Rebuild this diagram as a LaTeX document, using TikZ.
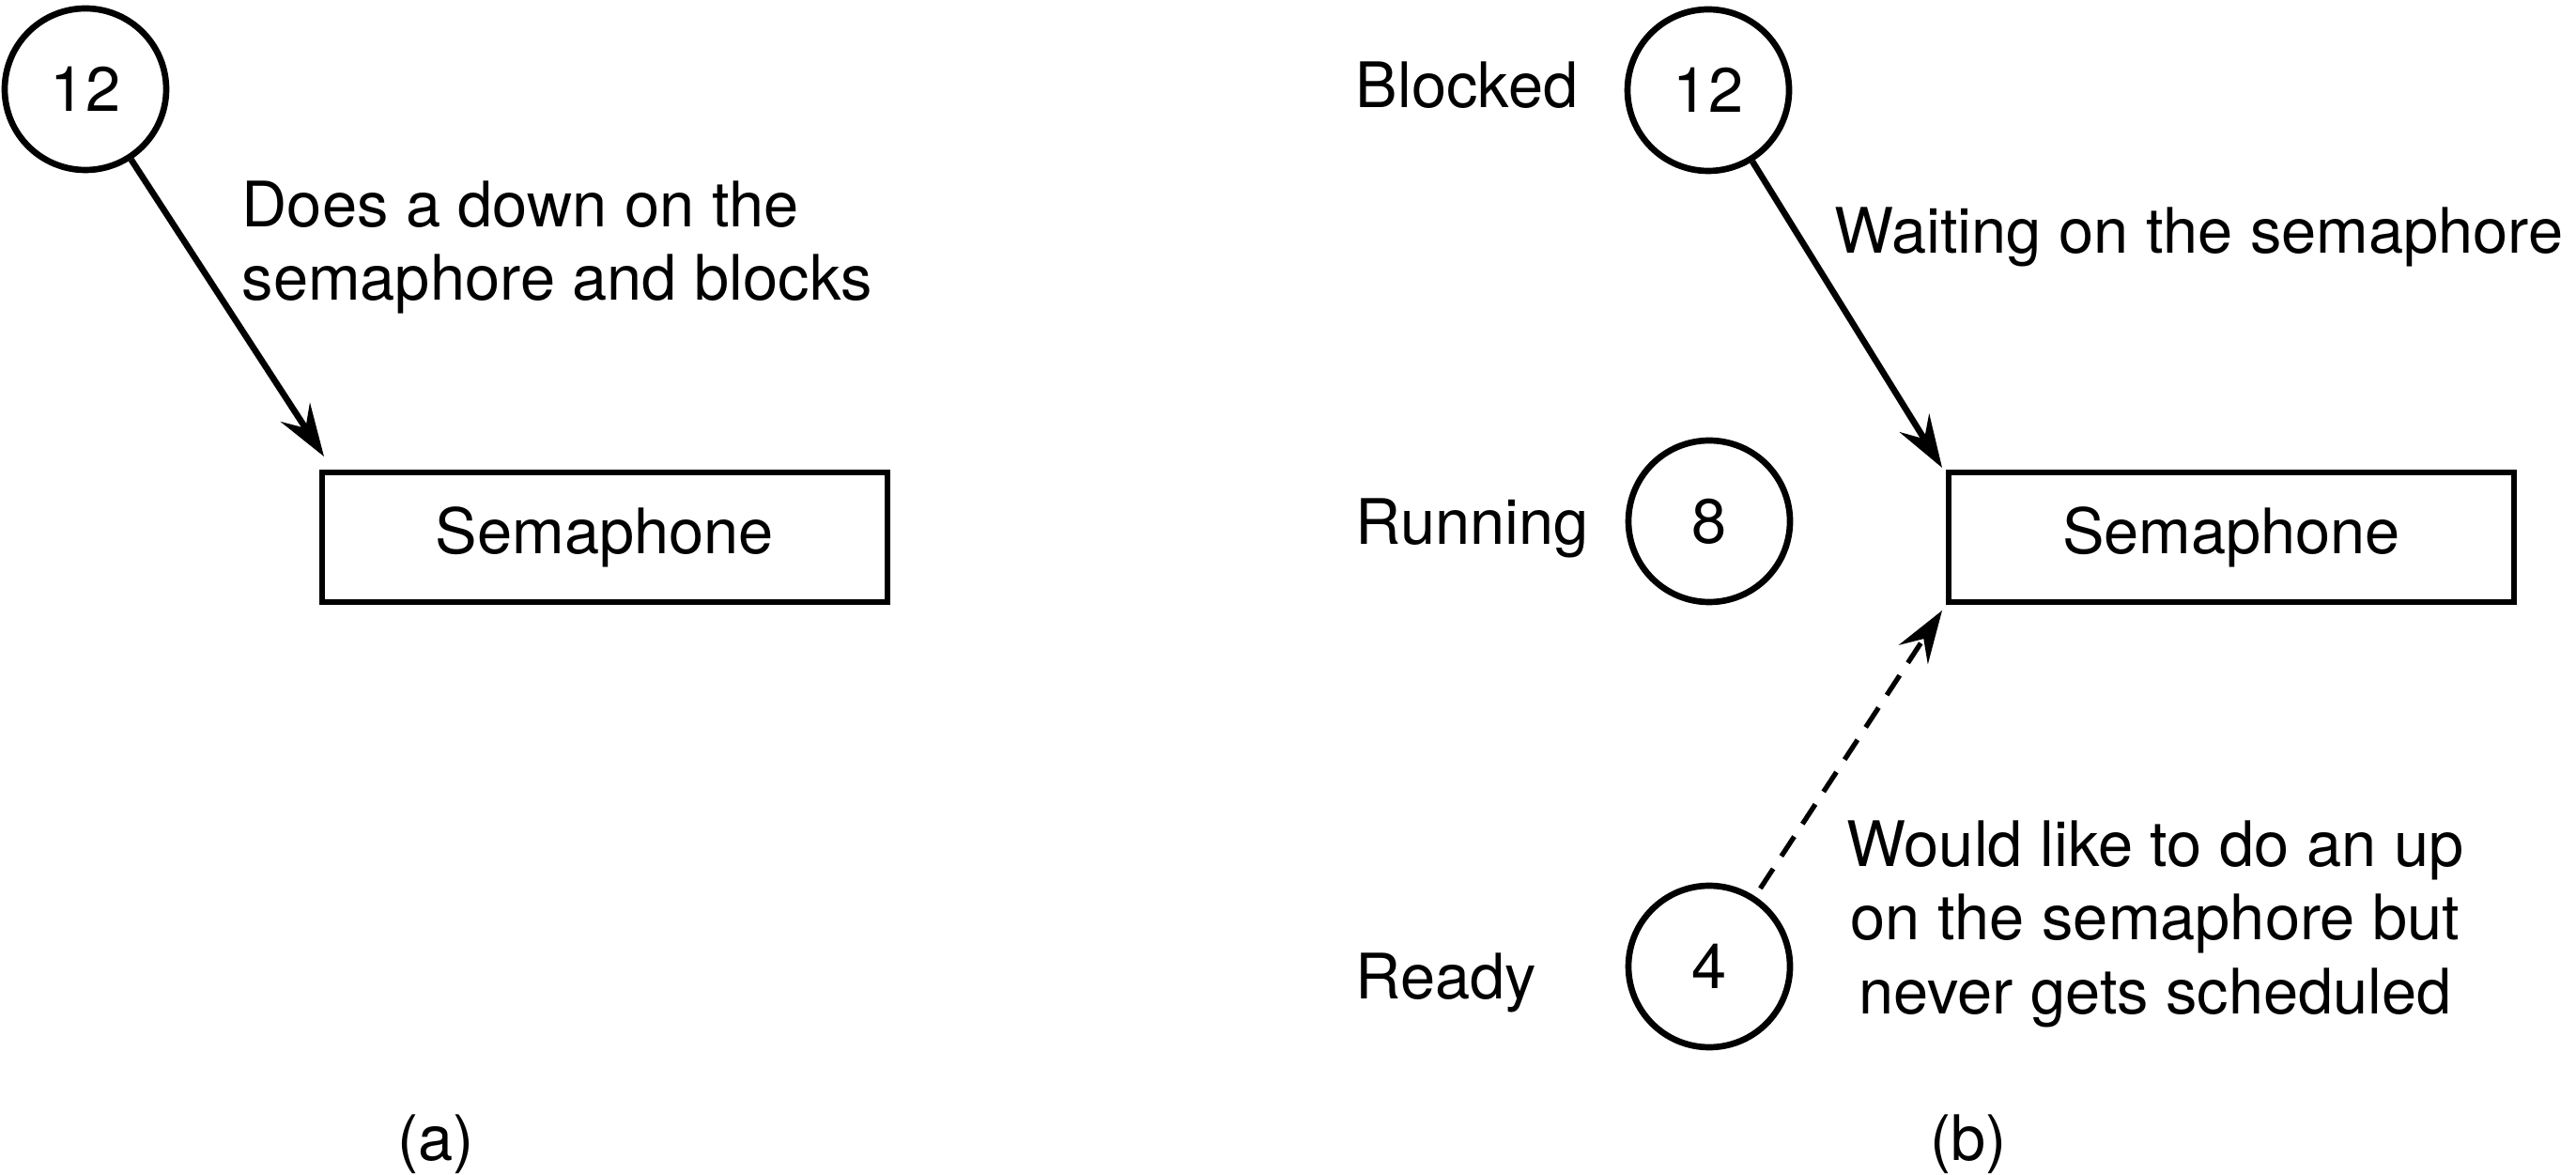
\documentclass[tikz,border=0pt]{standalone}
\usepackage{fontspec}
\setmainfont{TeX Gyre Heros}
\usetikzlibrary{arrows.meta}
\begin{document}
\begin{tikzpicture}[
  font=\fontsize{19}{22.3}\selectfont,
  proc/.style={draw, circle, line width=1.9pt, minimum size=1.72cm, inner sep=0pt},
  sembox/.style={draw, rectangle, line width=1.9pt, minimum width=6.02cm, minimum height=1.38cm, inner sep=0pt},
  lbl/.style={inner sep=0pt},
  tipstyle/.style={-{Stealth[length=5.6mm, width=3.7mm, inset=2mm]}},
  solidarrow/.style={tipstyle, line width=1.9pt},
  dasharrow/.style={tipstyle, line width=1.5pt, dash pattern=on 0.25cm off 0.16cm}
]
\useasboundingbox (0,0) rectangle (27.43,-12.51);

% (a)
\node[proc] (a12) at (0.91,-0.95) {12};
\node[sembox] (boxa) at (6.44,-5.72) {Semaphone};
\coordinate (tipa) at (3.45,-4.86);
\draw[solidarrow] (a12) -- (tipa);
\node[lbl, anchor=north west, align=left] (texta) at (2.57,-1.92) {Does a down on the\\semaphore and blocks};
\node[lbl, anchor=base] (capa) at (4.64,-12.35) {(a)};

% (b)
\node[proc] (b12) at (18.19,-0.96) {12};
\node[proc] (b8) at (18.20,-5.55) {8};
\node[proc] (b4) at (18.20,-10.29) {4};
\node[sembox] (boxb) at (23.76,-5.72) {Semaphone};
\coordinate (tipb) at (20.68,-4.98);
\coordinate (tipc) at (20.68,-6.50);
\draw[solidarrow] (b12) -- (tipb);
\draw[dasharrow, shorten <=0.1cm] (b4) -- (tipc);

\node[lbl, anchor=base west] (blocked) at (14.43,-1.15) {Blocked};
\node[lbl, anchor=base west] (running) at (14.43,-5.80) {Running};
\node[lbl, anchor=base west] (ready) at (14.43,-10.63) {Ready};
\node[lbl, anchor=base west] (waiting) at (19.53,-2.70) {Waiting on the semaphore};
\node[lbl, anchor=north, align=center] (would) at (22.95,-8.73) {Would like to do an up\\on the semaphore but\\never gets scheduled};
\node[lbl, anchor=base] (capb) at (20.96,-12.35) {(b)};
\end{tikzpicture}
\end{document}
